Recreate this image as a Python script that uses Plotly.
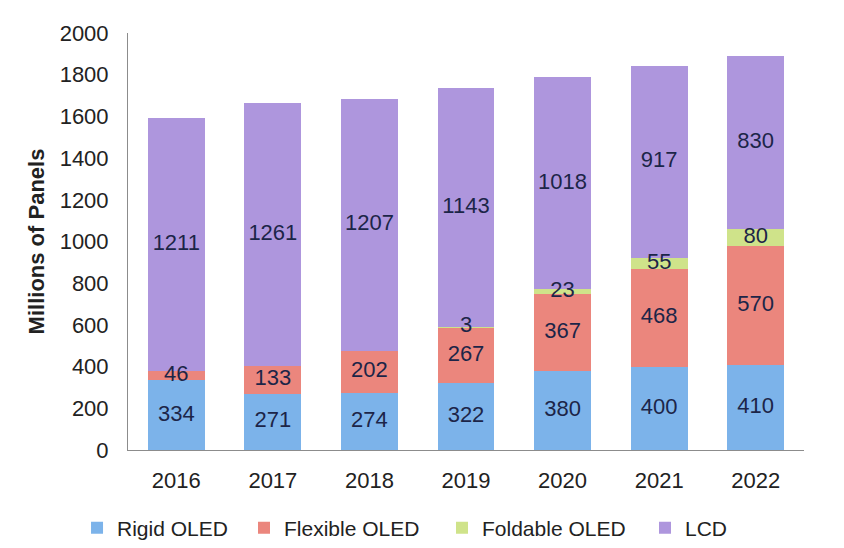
import plotly.graph_objects as go

years = ["2016", "2017", "2018", "2019", "2020", "2021", "2022"]
rigid_oled = [334, 271, 274, 322, 380, 400, 410]
flexible_oled = [46, 133, 202, 267, 367, 468, 570]
foldable_oled = [0, 0, 0, 3, 23, 55, 80]
lcd = [1211, 1261, 1207, 1143, 1018, 917, 830]
series_names = ["Rigid OLED", "Flexible OLED", "Foldable OLED", "LCD"]
series_values = [rigid_oled, flexible_oled, foldable_oled, lcd]
series_colors = ["#7cb3ea", "#eb867d", "#cfe38a", "#ae96dd"]
legend_x = [-0.0754, 0.1716, 0.4645, 0.7648]

FONT = "Liberation Sans, Arial, sans-serif"
LABEL_COLOR = "#1c2548"
fig = go.Figure()
base = [0] * len(years)
label_traces = []
legend_layouts = {}
for i, (name, vals, color) in enumerate(zip(series_names, series_values, series_colors)):
    lg = "legend" if i == 0 else f"legend{i + 1}"
    fig.add_trace(go.Bar(
        x=years, y=vals, name=name, legend=lg,
        marker=dict(color=color, line=dict(width=0)),
        hoverinfo="x+y+name",
    ))
    legend_layouts[lg] = dict(
        orientation="h", x=legend_x[i], xanchor="left", y=-0.187, yanchor="middle",
        font=dict(family=FONT, size=21, color="#222222"),
        bgcolor="rgba(0,0,0,0)",
    )
    mids = [b + v / 2 for b, v in zip(base, vals)]
    texts = [str(v) if v else "" for v in vals]
    label_traces.append(go.Scatter(
        x=years, y=mids, text=texts, mode="text",
        textposition="middle center",
        textfont=dict(family=FONT, size=22, color=LABEL_COLOR),
        showlegend=False, hoverinfo="skip", cliponaxis=False,
    ))
    base = [b + v for b, v in zip(base, vals)]
for t in label_traces:
    fig.add_trace(t)

# page body adds an 8px offset; margins compensate so the plot lands at the reference pixels
fig.update_layout(
    barmode="stack",
    bargap=0.41,
    width=844, height=548,
    margin=dict(l=120, r=48, t=25, b=106, autoexpand=False),
    paper_bgcolor="white", plot_bgcolor="white",
    font=dict(family=FONT, size=22, color="#222222"),
    showlegend=True,
    **legend_layouts,
)
fig.update_yaxes(
    range=[0, 2000], dtick=200, showgrid=False, zeroline=False,
    showline=True, linecolor="#8c8c8c", linewidth=1,
    ticks="", ticklabelstandoff=14, automargin=False,
    tickfont=dict(family=FONT, size=22, color="#222222"),
    title=dict(text="<b>Millions of Panels</b>", standoff=8,
               font=dict(family=FONT, size=22, color="#222222")),
)
fig.update_xaxes(
    showgrid=False, showline=True, linecolor="#8c8c8c", linewidth=1,
    ticks="", ticklabelstandoff=11, automargin=False,
    tickfont=dict(family=FONT, size=22, color="#222222"),
)
fig.write_html("out.html")
